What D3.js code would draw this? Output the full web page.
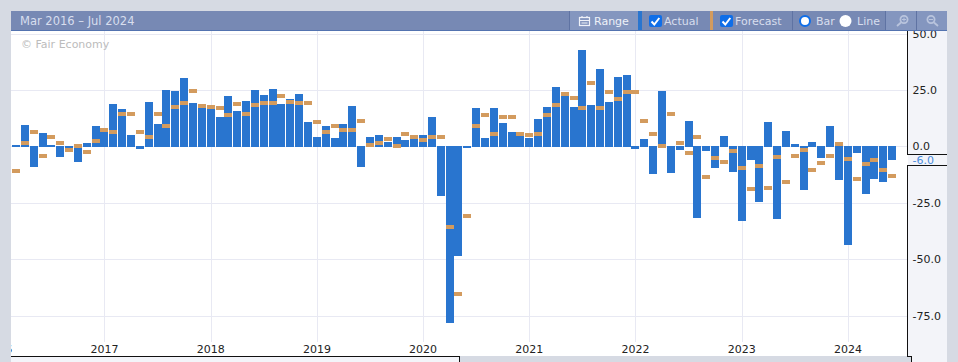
<!DOCTYPE html>
<html>
<head>
<meta charset="utf-8">
<script src="https://cdn.jsdelivr.net/npm/d3@7"></script>
<style>
  html, body { margin: 0; padding: 0; background: #d6dae3; overflow: hidden; }
  svg { display: block; font-family: "DejaVu Sans", sans-serif; }
</style>
</head>
<body>
<div id="chart"></div>
<script>
// months on the x axis, Mar 2016 - Jul 2024 (Jul has no bar yet)
const months = d3.utcMonth.range(new Date(Date.UTC(2016, 2, 1)), new Date(Date.UTC(2024, 7, 1)));

const actual = [
    0.8, 9.6, -9.0, 6.0, 0.8, -4.6, -0.9, -6.8, 1.6, 9.2,
    6.5, 18.9, 16.7, 5.2, -1.0, 19.8, 10.0, 25.1, 24.7, 30.4,
    19.3, 17.1, 16.7, 13.1, 22.5, 15.8, 20.2, 25.1, 22.9, 25.6,
    18.9, 21.1, 23.3, 10.9, 4.3, 9.2, 3.8, 10.0, 18.0, -9.0,
    4.3, 5.2, 2.1, 4.3, 3.0, 3.4, 5.2, 13.1, -21.7, -78.1,
    -48.4, -0.6, 17.1, 3.8, 17.1, 10.5, 6.5, 4.7, 3.8, 12.3,
    17.6, 26.4, 22.5, 17.6, 42.8, 18.5, 34.4, 19.8, 30.9, 31.8,
    -1.0, 3.4, -12.1, 24.7, -11.7, -1.5, 11.4, -31.6, -1.9, -9.5,
    4.7, -11.2, -32.9, -5.9, -24.5, 10.9, -32.0, 6.9, 1.2, -19.2,
    2.1, -5.0, 9.2, -14.8, -43.6, -2.8, -21.0, -14.3, -15.7, -6.0
];
const forecast = [
    -10.8, 1.6, 6.5, -4.1, 4.3, 1.6, -1.5, 0.3, -2.4, 2.5,
    7.4, 6.5, 14.5, 14.5, 6.5, 4.3, 14.5, 9.2, 17.6, 19.3,
    24.7, 18.0, 17.6, 17.1, 14.0, 18.9, 14.5, 18.5, 19.3, 19.3,
    22.5, 19.8, 19.3, 19.3, 10.9, 6.5, 9.2, 7.4, 7.4, 11.4,
    0.7, 1.6, 3.4, 0.3, 5.6, 4.3, 3.0, 4.3, 4.3, -35.6,
    -65.3, -30.7, 9.2, 14.0, 5.6, 13.1, 13.1, 5.6, 5.2, 5.6,
    14.0, 18.5, 23.3, 21.6, 17.1, 28.2, 17.1, 24.2, 21.1, 24.2,
    24.2, 11.4, 5.6, 0.3, 14.5, 1.6, -2.8, 4.3, -13.4, -5.0,
    -6.8, -1.9, -9.5, -18.8, -8.6, -18.3, -4.6, -15.7, -4.1, -1.5,
    -10.3, -7.2, -4.1, 1.2, -5.5, -14.3, -7.7, -5.9, -10.3, -13.0
];
const yTicks = [50, 25, 0, -25, -50, -75];
const yearTicks = [2016, 2017, 2018, 2019, 2020, 2021, 2022, 2023, 2024];
const rangeLabel = "Mar 2016 – Jul 2024";

const frameCol = "#d6dae3", panelCol = "#f3f4f9", gridCol = "#e8e9f3";
const barCol = "#2975cf", fcCol = "#d39b5e", headCol = "#7789b4", headBtn = "#8496bf", headTxt = "#d8deee";
const fontName = '"DejaVu Sans", sans-serif';

const svg = d3.select("#chart").append("svg").attr("width", 958).attr("height", 362);

// x scale is a band per month, Jan ticks sit at the band centre
const x = d3.scaleBand().domain(months.map(d => +d))
    .range([11.57, 11.57 + 8.85 * months.length]).paddingInner(0.096).paddingOuter(0.048);
const y = d3.scaleLinear().domain([50, -75]).range([34.1, 316.1]);
// Jan 2016 is two months before the first band, so count steps from there
const xYear = yr => x(+months[0]) + x.bandwidth() / 2 + x.step() * ((yr - 2016) * 12 - 2);

// plot background
svg.append("rect").attr("x", 11).attr("y", 31).attr("width", 897).attr("height", 325).attr("fill", "#fff");

// gridlines
const grid = svg.append("g").attr("stroke", gridCol).attr("shape-rendering", "crispEdges");
grid.selectAll(".h").data(yTicks).enter().append("line")
    .attr("x1", 11).attr("x2", 907)
    .attr("y1", d => Math.floor(y(d)) + 0.5).attr("y2", d => Math.floor(y(d)) + 0.5);
grid.selectAll(".v").data(yearTicks.slice(1)).enter().append("line")
    .attr("y1", 31).attr("y2", 342)
    .attr("x1", d => Math.round(xYear(d) - 0.1) + 0.5).attr("x2", d => Math.round(xYear(d) - 0.1) + 0.5);

svg.append("text").attr("x", 21).attr("y", 48).attr("font-size", 11).attr("fill", "#bcbcbc").text("© Fair Economy");

// bars: positive ones end one row under the negative ones' start
const zero = Math.round(y(0));
const left = i => Math.round(x(+months[i]));
const right = i => Math.round(x(+months[i]) + x.bandwidth());
svg.append("g").attr("fill", barCol).selectAll("rect").data(actual).enter().append("rect")
    .attr("x", (d, i) => left(i))
    .attr("width", (d, i) => right(i) - left(i))
    .attr("y", d => d >= 0 ? Math.round(y(d)) : zero - 1)
    .attr("height", d => d >= 0 ? zero - Math.round(y(d)) : Math.round(y(d)) - zero + 1);

svg.append("g").attr("fill", fcCol).selectAll("rect").data(forecast).enter().append("rect")
    .attr("x", (d, i) => left(i))
    .attr("width", (d, i) => right(i) - left(i))
    .attr("y", d => Math.round(y(d) - 2))
    .attr("height", 4);

// x axis labels, the 2016 one gets cut off by the frame
const yearScale = d3.scaleLinear().domain(d3.extent(yearTicks)).range(d3.extent(yearTicks, xYear));
const xAxis = svg.append("g").attr("transform", "translate(0,342)")
    .call(d3.axisBottom(yearScale).tickValues(yearTicks).tickSize(0).tickPadding(3).offset(0).tickFormat(d => d));
xAxis.select(".domain").remove();
xAxis.attr("font-family", fontName).attr("font-size", 11);
xAxis.selectAll("text").attr("fill", "#222");

// right panel
svg.append("rect").attr("x", 908).attr("y", 31).attr("width", 39).attr("height", 331).attr("fill", panelCol);
const yAxis = svg.append("g").attr("transform", "translate(908,0)")
    .call(d3.axisRight(y).tickValues(yTicks).tickSize(0).tickPadding(4.5).offset(0).tickFormat(d => d.toFixed(1)));
yAxis.select(".domain").remove();
yAxis.attr("font-family", fontName).attr("font-size", 11);
yAxis.selectAll("text").attr("fill", "#222");

// last actual value tag, it breaks the axis line
const lastVal = actual[actual.length - 1];
const tagTop = Math.round(y(lastVal)) - 6, tagBot = tagTop + 11;
const axisLines = [[907.5, 31, 907.5, tagTop], [907.5, tagBot, 907.5, 356.5],
    [907, tagTop + 0.5, 947, tagTop + 0.5], [907, tagBot + 0.5, 947, tagBot + 0.5],
    [11, 356.5, 460, 356.5], [459.5, 356, 459.5, 362], [907, 356.5, 912, 356.5], [911.5, 356, 911.5, 362]];

// frame round the plot
svg.append("rect").attr("x", 0).attr("y", 31).attr("width", 11).attr("height", 331).attr("fill", frameCol);
svg.append("rect").attr("x", 947).attr("y", 0).attr("width", 11).attr("height", 362).attr("fill", frameCol);
svg.append("rect").attr("x", 0).attr("y", 0).attr("width", 958).attr("height", 11).attr("fill", frameCol);
svg.append("rect").attr("x", 11).attr("y", 357).attr("width", 448).attr("height", 5).attr("fill", panelCol);
svg.append("rect").attr("x", 460).attr("y", 357).attr("width", 451).attr("height", 5).attr("fill", frameCol);

svg.append("g").attr("stroke", "#111").attr("shape-rendering", "crispEdges").selectAll("line")
    .data(axisLines).enter().append("line")
    .attr("x1", d => d[0]).attr("y1", d => d[1]).attr("x2", d => d[2]).attr("y2", d => d[3]);
svg.append("text").attr("x", 912.5).attr("y", y(lastVal)).attr("dy", "0.32em")
    .attr("font-size", 11).attr("fill", "#4a8bdc").text(lastVal.toFixed(1));

// toolbar
const bar = svg.append("g");
bar.append("rect").attr("x", 11).attr("y", 11).attr("width", 936).attr("height", 19).attr("fill", headCol);
bar.append("rect").attr("x", 11).attr("y", 30).attr("width", 936).attr("height", 1).attr("fill", "#5373b0");
bar.append("text").attr("x", 20).attr("y", 25).attr("font-size", 11.5).attr("fill", headTxt).text(rangeLabel);

bar.append("rect").attr("x", 569).attr("y", 11).attr("width", 69).attr("height", 19).attr("fill", headBtn);
bar.append("rect").attr("x", 885).attr("y", 11).attr("width", 62).attr("height", 19).attr("fill", headBtn);
[569, 792, 885, 916].forEach(sx => {
    bar.append("rect").attr("x", sx).attr("y", 11).attr("width", 1).attr("height", 19).attr("fill", "#5f73a3");
});

// calendar icon
const cal = bar.append("g").attr("fill", "none").attr("stroke", "#eef1f8").attr("stroke-width", 1.2);
cal.append("rect").attr("x", 579.5).attr("y", 17.5).attr("width", 10).attr("height", 8);
cal.append("path").attr("d", "M579.5 20.5H589.5M582 16V18M587 16V18M581.5 23H587.5");
bar.append("text").attr("x", 594).attr("y", 25).attr("font-size", 11).attr("fill", "#eef1f8").text("Range");

bar.append("rect").attr("x", 638).attr("y", 11).attr("width", 4).attr("height", 19).attr("fill", barCol);
bar.append("rect").attr("x", 710).attr("y", 11).attr("width", 3).attr("height", 19).attr("fill", fcCol);

function checkbox(cx, label) {
    bar.append("rect").attr("x", cx).attr("y", 15).attr("width", 13).attr("height", 12).attr("rx", 2).attr("fill", "#0f6ee8");
    bar.append("path").attr("d", `M${cx + 2.5} 21.5l2.8 3l5 -6.5`).attr("fill", "none")
        .attr("stroke", "#fff").attr("stroke-width", 2);
    bar.append("text").attr("x", cx + 15).attr("y", 25).attr("font-size", 11).attr("fill", headTxt).text(label);
}
checkbox(649, "Actual");
checkbox(720, "Forecast");

bar.append("circle").attr("cx", 805).attr("cy", 21).attr("r", 5).attr("fill", "#fff").attr("stroke", "#0f6ee8").attr("stroke-width", 2);
bar.append("text").attr("x", 816).attr("y", 25).attr("font-size", 11).attr("fill", headTxt).text("Bar");
bar.append("circle").attr("cx", 845.5).attr("cy", 21).attr("r", 6).attr("fill", "#fff");
bar.append("text").attr("x", 857).attr("y", 25).attr("font-size", 11).attr("fill", headTxt).text("Line");

// magnifier icons
function lens(cx, plus) {
    const g = bar.append("g").attr("fill", "none").attr("stroke", "#b9c4dd").attr("stroke-width", 1.8);
    g.append("circle").attr("cx", cx + 1).attr("cy", 19.5).attr("r", 3.6);
    g.append("path").attr("d", `M${cx - 2} 22.5L${cx - 6} 26`);
    if (plus) g.append("path").attr("stroke-width", 1).attr("d", `M${cx - 1} 19.5h4M${cx + 1} 17.5v4`);
}
lens(903, true);

function lensOut(cx) {
    const g = bar.append("g").attr("fill", "none").attr("stroke", "#b9c4dd").attr("stroke-width", 1.8);
    g.append("circle").attr("cx", cx - 1).attr("cy", 19.5).attr("r", 3.6);
    g.append("path").attr("d", `M${cx + 2} 22.5L${cx + 6} 26`);
    g.append("path").attr("stroke-width", 1).attr("d", `M${cx - 3} 19.5h4`);
}
lensOut(932);
</script>
</body>
</html>
